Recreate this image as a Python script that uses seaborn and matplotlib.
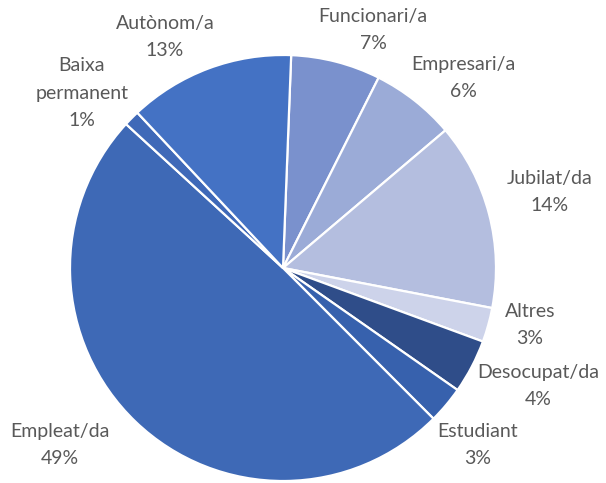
import matplotlib
matplotlib.use("Agg")
import matplotlib.pyplot as plt
import seaborn as sns
import numpy as np

# dades (percentatges llegits del gràfic)
categories = ['Funcionari/a', 'Empresari/a', 'Jubilat/da', 'Altres', 'Desocupat/da',
              'Estudiant', 'Empleat/da', 'Baixa\npermanent', 'Autònom/a']
values = [6.8, 6.4, 14.2, 2.6, 4.1, 2.8, 49.3, 1.2, 12.6]
shown_pct = [7, 6, 14, 3, 4, 3, 49, 1, 13]
colors = ['#7A91CD', '#9BABD7', '#B4BEDF', '#CDD3EA', '#2F4D89',
          '#3761AD', '#3E69B6', '#3F69B8', '#4472C4']

# posició de les etiquetes respecte al centre (píxels)
label_offsets = [(90, 238), (180, 190), (267, 76), (247, -57), (255, -118),
                 (195, -177), (-223, -177), (-201, 175), (-118, 231)]

sns.set_style("white")
plt.rcParams['font.family'] = ['Lato', 'DejaVu Sans']

fig = plt.figure(figsize=(6.06, 4.83), dpi=100)
ax = fig.add_axes([0, 0, 1, 1])
ax.set_aspect('equal')
ax.axis('off')

cx, cy, r = 283, 215, 213
wedges, _ = ax.pie(values, colors=colors, startangle=87.8, counterclock=False,
                   center=(cx, cy), radius=r,
                   wedgeprops=dict(edgecolor='white', linewidth=1.6))
ax.set_xlim(0, 606)
ax.set_ylim(0, 483)

for name, p, (dx, dy) in zip(categories, shown_pct, label_offsets):
    ax.text(cx + dx, cy + dy, f"{name}\n{p}%", ha='center', va='center',
            fontsize=14, color='#595959', linespacing=1.75)

plt.savefig('out.png', dpi=100)
